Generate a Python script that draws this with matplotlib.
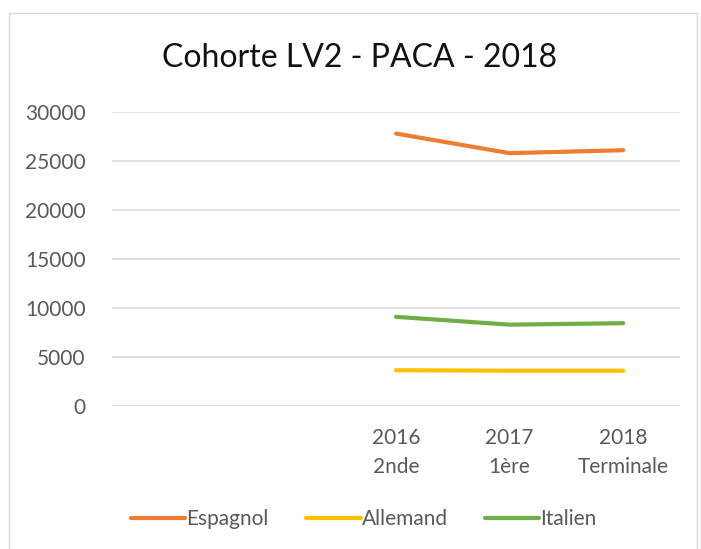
import numpy as np
import matplotlib.pyplot as plt
from matplotlib.patches import Rectangle

plt.rcParams['font.family'] = ['Lato', 'DejaVu Sans']

# --- data ---
categories = ["", "", "2016\n2nde", "2017\n1ère", "2018\nTerminale"]
espagnol = [np.nan, np.nan, 27800, 25800, 26100]
allemand = [np.nan, np.nan, 3650, 3600, 3600]
italien = [np.nan, np.nan, 9100, 8300, 8450]
y_ticks = [0, 5000, 10000, 15000, 20000, 25000, 30000]

series = [
    ("Espagnol", espagnol, "#ED7D31"),
    ("Allemand", allemand, "#FFC000"),
    ("Italien", italien, "#70AD47"),
]

W, H = 701, 549
fig = plt.figure(figsize=(W / 100, H / 100), dpi=100)
ax = fig.add_axes([112 / W, 1 - 406 / H, 568 / W, 294 / H])

x = np.arange(len(categories))
for name, vals, col in series:
    ax.plot(x, vals, color=col, lw=3.0, solid_capstyle='round', label=name)

ax.set_xlim(-0.5, len(categories) - 0.5)
ax.set_ylim(0, 30000)
ax.set_yticks(y_ticks)
ax.set_yticklabels([str(v) for v in y_ticks])
ax.set_xticks(x)
ax.set_xticklabels(categories, linespacing=1.55)
ax.tick_params(axis='both', length=0, labelsize=15, labelcolor='#595959')
ax.tick_params(axis='y', pad=19)
ax.tick_params(axis='x', pad=16)
for s in ax.spines.values():
    s.set_visible(False)
ax.grid(axis='y', color='#D9D9D9', lw=1.1)
ax.set_axisbelow(True)

fig.text(360 / W, 1 - 58 / H, "Cohorte LV2 - PACA - 2018", ha='center', va='center',
         fontsize=23, color='#111111')

fig.legend(loc='center', bbox_to_anchor=(364 / W, 1 - 519 / H), ncol=3, frameon=False,
           fontsize=15, labelcolor='#595959', handlelength=2.6, handletextpad=0.05,
           columnspacing=1.8)

# outer chart border (cut off at bottom)
fig.patches.append(Rectangle((9 / W, -0.1), (697 - 9) / W, 1.1 - 13 / H,
                             transform=fig.transFigure, fill=False,
                             edgecolor='#D9D9D9', lw=1.0))

fig.savefig("out.png", dpi=100, facecolor='white')
